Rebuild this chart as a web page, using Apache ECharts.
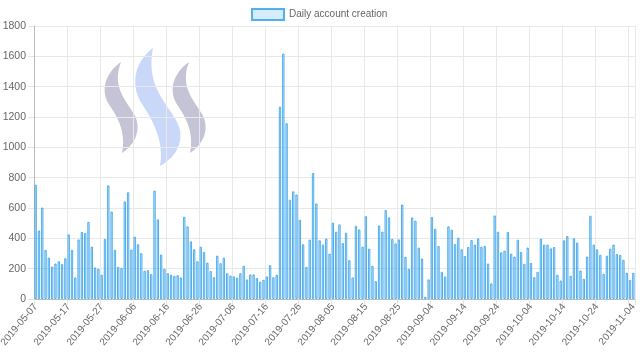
<!DOCTYPE html>
<html>
<head>
<meta charset="utf-8">
<script src="https://cdn.jsdelivr.net/npm/echarts@6/dist/echarts.min.js"></script>
<style>html,body{margin:0;padding:0;background:#fff}#c{width:640px;height:361px}</style>
</head>
<body>
<div id="c"></div>
<script>
const seriesName = 'Daily account creation';
const categories = [
'2019-05-07','2019-05-08','2019-05-09','2019-05-10','2019-05-11','2019-05-12','2019-05-13','2019-05-14','2019-05-15','2019-05-16',
'2019-05-17','2019-05-18','2019-05-19','2019-05-20','2019-05-21','2019-05-22','2019-05-23','2019-05-24','2019-05-25','2019-05-26',
'2019-05-27','2019-05-28','2019-05-29','2019-05-30','2019-05-31','2019-06-01','2019-06-02','2019-06-03','2019-06-04','2019-06-05',
'2019-06-06','2019-06-07','2019-06-08','2019-06-09','2019-06-10','2019-06-11','2019-06-12','2019-06-13','2019-06-14','2019-06-15',
'2019-06-16','2019-06-17','2019-06-18','2019-06-19','2019-06-20','2019-06-21','2019-06-22','2019-06-23','2019-06-24','2019-06-25',
'2019-06-26','2019-06-27','2019-06-28','2019-06-29','2019-06-30','2019-07-01','2019-07-02','2019-07-03','2019-07-04','2019-07-05',
'2019-07-06','2019-07-07','2019-07-08','2019-07-09','2019-07-10','2019-07-11','2019-07-12','2019-07-13','2019-07-14','2019-07-15',
'2019-07-16','2019-07-17','2019-07-18','2019-07-19','2019-07-20','2019-07-21','2019-07-22','2019-07-23','2019-07-24','2019-07-25',
'2019-07-26','2019-07-27','2019-07-28','2019-07-29','2019-07-30','2019-07-31','2019-08-01','2019-08-02','2019-08-03','2019-08-04',
'2019-08-05','2019-08-06','2019-08-07','2019-08-08','2019-08-09','2019-08-10','2019-08-11','2019-08-12','2019-08-13','2019-08-14',
'2019-08-15','2019-08-16','2019-08-17','2019-08-18','2019-08-19','2019-08-20','2019-08-21','2019-08-22','2019-08-23','2019-08-24',
'2019-08-25','2019-08-26','2019-08-27','2019-08-28','2019-08-29','2019-08-30','2019-08-31','2019-09-01','2019-09-02','2019-09-03',
'2019-09-04','2019-09-05','2019-09-06','2019-09-07','2019-09-08','2019-09-09','2019-09-10','2019-09-11','2019-09-12','2019-09-13',
'2019-09-14','2019-09-15','2019-09-16','2019-09-17','2019-09-18','2019-09-19','2019-09-20','2019-09-21','2019-09-22','2019-09-23',
'2019-09-24','2019-09-25','2019-09-26','2019-09-27','2019-09-28','2019-09-29','2019-09-30','2019-10-01','2019-10-02','2019-10-03',
'2019-10-04','2019-10-05','2019-10-06','2019-10-07','2019-10-08','2019-10-09','2019-10-10','2019-10-11','2019-10-12','2019-10-13',
'2019-10-14','2019-10-15','2019-10-16','2019-10-17','2019-10-18','2019-10-19','2019-10-20','2019-10-21','2019-10-22','2019-10-23',
'2019-10-24','2019-10-25','2019-10-26','2019-10-27','2019-10-28','2019-10-29','2019-10-30','2019-10-31','2019-11-01','2019-11-02',
'2019-11-03','2019-11-04'
];
const accounts = [
754,452,603,324,273,214,234,249,230,269,
426,324,142,393,442,435,509,345,208,199,
160,396,750,577,324,212,205,643,704,326,
411,361,302,186,190,164,715,525,293,199,
170,160,153,157,142,542,479,380,328,249,
345,310,240,184,144,286,236,273,170,155,
149,140,170,219,129,162,162,138,114,127,
149,223,143,160,1268,1618,1159,654,710,689,
522,361,212,391,831,630,387,359,398,299,
503,444,492,369,437,256,142,483,459,345,
546,332,219,118,485,444,586,538,396,367,
393,623,278,199,538,516,339,267,15,129,
540,463,350,179,149,479,457,363,404,328,
284,343,389,359,400,345,350,234,103,551,
444,308,319,442,299,280,391,310,232,339,
238,144,179,398,359,359,334,343,160,122,
387,415,153,400,372,188,133,280,549,359,
328,291,166,286,332,359,297,291,258,173,
125,173
];
const yTicks = [0,200,400,600,800,1000,1200,1400,1600,1800];

// decorative watermark outline (cubic bezier segments), not data
const logoSmall = [[121,62],[104,74],[100,92],[110,106],[118,118],[126,132],[122,153],[136,144],[142,128],[134,114],[124,98],[112,86],[121,62]];
const logoBig = [[153,48],[134,62],[130,86],[142,104],[154,122],[164,142],[160,166],[178,156],[186,138],[176,120],[164,100],[146,84],[153,48]];

function sampleBezier(ctrl, dx) {
  const pts = [];
  for (let s = 0; s + 3 < ctrl.length; s += 3) {
    const [p0, p1, p2, p3] = [ctrl[s], ctrl[s+1], ctrl[s+2], ctrl[s+3]];
    for (let k = 0; k <= 20; k++) {
      const t = k / 20, u = 1 - t;
      const x = u*u*u*p0[0] + 3*u*u*t*p1[0] + 3*u*t*t*p2[0] + t*t*t*p3[0];
      const y = u*u*u*p0[1] + 3*u*u*t*p1[1] + 3*u*t*t*p2[1] + t*t*t*p3[1];
      pts.push([x + dx, y]);
    }
  }
  return pts;
}

const lastIdx = categories.length - 1;
const labelShown = (i) => (i % 10 === 0 && i + 10 <= lastIdx) || i === lastIdx;
const gridShown = (i) => i % 10 === 0 && i > 0;
const font = "'Liberation Sans',Arial,sans-serif";

const chart = echarts.init(document.getElementById('c'), null, {renderer: 'canvas'});
chart.setOption({
  animation: false,
  backgroundColor: '#fff',
  textStyle: {fontFamily: font},
  graphic: [
    {type: 'polygon', z: 0, silent: true, shape: {points: sampleBezier(logoSmall, 0)}, style: {fill: '#c4c4d6'}},
    {type: 'polygon', z: 0, silent: true, shape: {points: sampleBezier(logoBig, 0)}, style: {fill: '#c9d8f8'}},
    {type: 'polygon', z: 0, silent: true, shape: {points: sampleBezier(logoSmall, 68)}, style: {fill: '#c4c4d6'}}
  ],
  legend: {
    data: [{name: seriesName, icon: 'rect'}],
    left: 251, top: 8, padding: 0,
    itemWidth: 32, itemHeight: 11, itemGap: 5,
    textStyle: {color: '#666', fontSize: 10, fontFamily: font}
  },
  grid: {left: 34, right: 5, top: 26, bottom: 62, containLabel: false, outerBoundsMode: 'none'},
  xAxis: {
    type: 'category',
    data: categories,
    boundaryGap: true,
    axisLine: {show: true, lineStyle: {color: '#bbb', width: 1}},
    axisTick: {show: true, interval: (i) => i % 10 === 0, length: 6, lineStyle: {color: '#e3e3e3'}},
    splitLine: {show: true, interval: (i) => gridShown(i), lineStyle: {color: '#e8e8e8'}},
    axisLabel: {interval: (i) => labelShown(i), rotate: 50, color: '#666', fontSize: 10, fontFamily: font, margin: 6}
  },
  yAxis: {
    type: 'value',
    min: yTicks[0], max: yTicks[yTicks.length - 1], interval: 200,
    axisLine: {show: true, lineStyle: {color: '#bbb'}},
    axisTick: {show: true, length: 6, lineStyle: {color: '#e3e3e3'}},
    splitLine: {lineStyle: {color: '#e8e8e8'}},
    axisLabel: {color: '#666', fontSize: 10.5, fontFamily: font, margin: 8, formatter: (v) => String(v)}
  },
  series: [{
    name: seriesName,
    type: 'bar',
    data: accounts,
    barWidth: '72%',
    z: 2,
    itemStyle: {color: 'rgba(54,162,235,0.2)', borderColor: 'rgba(54,162,235,0.85)', borderWidth: 1}
  }]
});
</script>
</body>
</html>
